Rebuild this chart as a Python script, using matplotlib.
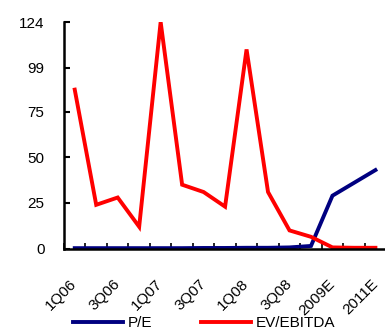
import matplotlib
matplotlib.use('Agg')
import matplotlib.pyplot as plt
import matplotlib.transforms as mtransforms
import numpy as np

plt.rcParams['font.family'] = ['Liberation Sans', 'DejaVu Sans']

# quarterly history followed by annual estimates
periods = ['1Q06', '2Q06', '3Q06', '4Q06', '1Q07', '2Q07', '3Q07', '4Q07',
           '1Q08', '2Q08', '3Q08', '4Q08', '2009E', '2010E', '2011E']
pe = [0.3, 0.3, 0.3, 0.3, 0.3, 0.3, 0.4, 0.4, 0.5, 0.5, 0.7, 1.5, 29, 36, 43]
ev_ebitda = [87, 24, 28, 12, 124, 35, 31, 23, 109, 31, 10, 6.5, 0.7, 0.5, 0.5]
yticks = [0, 25, 50, 75, 99, 124]

fig = plt.figure(figsize=(3.85, 3.28), dpi=100)
ax = fig.add_axes([64 / 385, 1 - 248.7 / 328, 1 - 64 / 385 + 0.003, (248.7 - 22) / 328])

x = np.arange(len(periods))
ax.plot(x, pe, color='#000080', lw=2.8, label='P/E', solid_joinstyle='miter')
ax.plot(x, ev_ebitda, color='#ff0000', lw=2.8, label='EV/EBITDA', solid_joinstyle='miter')

ax.set_xlim(-0.5, len(periods) - 0.5)
ax.set_ylim(0, 124)
ax.set_yticks(yticks)
ax.set_yticklabels([str(v) for v in yticks], fontsize=11)

# ticks sit on the category boundaries, labels on every other category
ax.set_xticks(np.arange(len(periods)) - 0.5)
ax.set_xticklabels([])
ax.set_xticks(x[::2], minor=True)
labels = ax.set_xticklabels(periods[::2], minor=True, rotation=45, ha='right',
                            va='center', rotation_mode='anchor', fontsize=11)
shift = mtransforms.ScaledTranslation(-8 / 100, 0, fig.dpi_scale_trans)
for lab in labels:
    lab.set_transform(lab.get_transform() + shift)
ax.tick_params(axis='x', which='major', direction='in', length=4, width=1.2)
ax.tick_params(axis='x', which='minor', length=0, pad=24)
ax.tick_params(axis='y', direction='in', length=4, width=1.5, pad=14)

for side in ['top', 'right']:
    ax.spines[side].set_visible(False)
ax.spines['left'].set_linewidth(1.8)
ax.spines['bottom'].set_linewidth(1.8)
ax.spines['left'].set_zorder(5)

ax.legend(loc='upper left', bbox_to_anchor=(0.008, -0.27), ncol=2, frameon=False,
          fontsize=11, handlelength=3.3, handletextpad=0.3, columnspacing=3.2,
          borderaxespad=0)

fig.savefig('out.png', dpi=100)
